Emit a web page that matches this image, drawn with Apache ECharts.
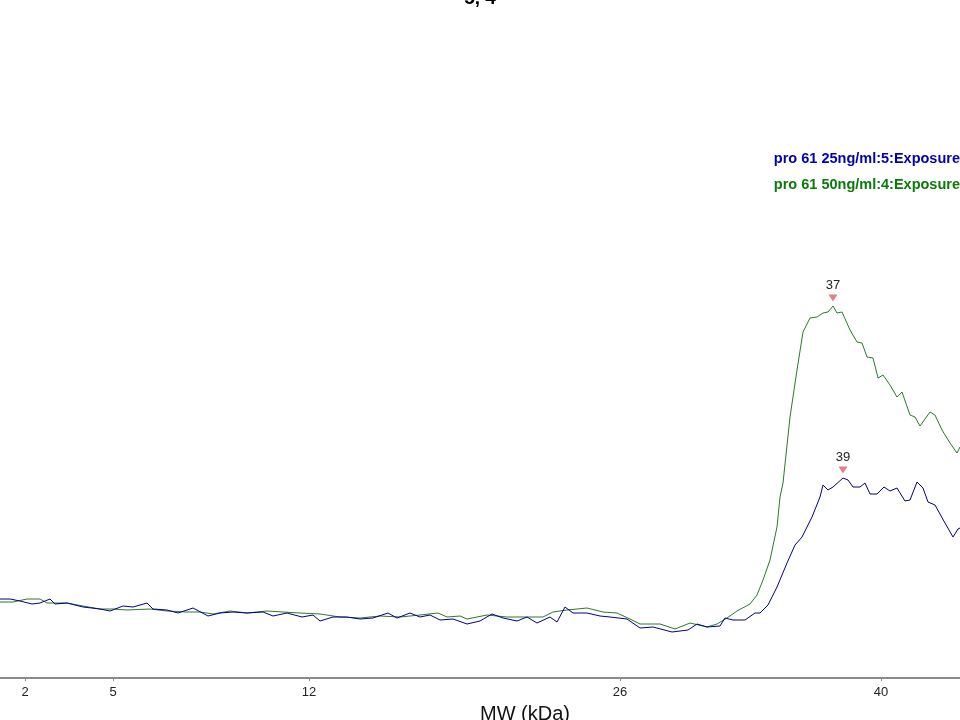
<!DOCTYPE html>
<html>
<head>
<meta charset="utf-8">
<script src="https://cdn.jsdelivr.net/npm/echarts@6/dist/echarts.min.js"></script>
<style>html,body{margin:0;padding:0;background:#fff}#c{width:960px;height:720px}</style>
</head>
<body>
<div id="c"></div>
<script>
const seriesNames = ['pro 61 25ng/ml:5:Exposure', 'pro 61 50ng/ml:4:Exposure'];
const tickPositions = [25, 113, 309, 620, 881];
const tickLabels = ['2', '5', '12', '26', '40'];

const blueX = [0,10,20,32,40,50,55,67,83,100,110,123,133,147,153,167,178,193,208,220,233,247,263,273,287,302,313,320,333,347,360,373,388,397,410,420,430,440,453,467,480,492,503,517,527,537,550,557,565,573,587,600,610,627,640,653,672,688,697,707,720,725,733,745,755,760,768,777,787,795,802,812,820,823,828,833,843,848,853,860,865,870,877,884,890,897,905,910,917,923,928,935,945,953,958,960];
const blueY = [79,79,77,74,75,79,74,75,71,69,67,72,71,75,69,68,65,70,62,65,66,65,66,62,65,61,63,57,61,61,59,60,65,60,65,61,63,58,59,54,57,64,60,57,61,55,61,56,71,65,65,62,61,59,50,51,46,48,54,51,52,60,58,58,65,65,73,91,115,133,141,161,181,193,188,191,200,198,191,191,195,184,184,191,187,190,177,178,196,190,176,173,155,141,149,150];

const greenX = [0,13,27,40,47,67,83,100,113,127,150,167,187,200,213,230,247,267,283,300,320,340,360,380,400,420,438,447,460,467,487,507,527,543,553,567,587,603,617,630,640,660,675,690,707,717,727,737,750,757,763,770,777,780,783,790,797,803,810,817,823,828,833,837,842,850,857,862,867,873,878,883,890,897,902,910,915,920,930,935,942,950,957,960];
const greenY = [76,76,79,79,75,75,72,69,69,68,69,67,66,66,64,67,65,67,66,65,64,61,60,62,61,63,65,61,62,59,63,61,61,61,66,68,70,66,65,59,54,54,49,55,51,54,60,67,74,83,98,118,151,181,195,261,308,346,360,361,365,366,372,365,366,348,336,335,321,320,300,303,293,281,286,263,261,252,266,263,248,235,225,231];

const peakLabels = ['39', '37'];
const peakX = [843, 833];
const peakY = [200, 372];

const lineColors = ['#00008b', '#2a7a2a'];
const legendColors = ['#0000b4', '#0a7a0a'];

function pairs(xs, ys) { return xs.map((x, i) => [x, ys[i]]); }

const chart = echarts.init(document.getElementById('c'));
chart.setOption({
  animation: false,
  backgroundColor: '#fff',
  textStyle: { fontFamily: 'Liberation Sans, Arial, sans-serif' },
  title: {
    text: '5, 4', left: 'center', top: -16,
    textStyle: { fontSize: 19, fontWeight: 'bold', color: '#000', fontFamily: 'Liberation Sans' }
  },
  legend: {
    orient: 'vertical', right: 0, top: 151, itemGap: 11, itemWidth: 0, itemHeight: 0, icon: 'none',
    data: seriesNames.map((n, i) => ({ name: n, textStyle: { color: legendColors[i] } })),
    textStyle: { fontSize: 14.5, fontWeight: 'bold', fontFamily: 'Liberation Sans', padding: 0 },
    padding: 0
  },
  grid: { left: 0, right: 0, top: 0, bottom: 42 },
  xAxis: {
    type: 'value', min: 0, max: 960,
    splitLine: { show: false },
    axisLine: { lineStyle: { color: '#8a8a8a', width: 2 } },
    axisTick: { show: true, customValues: tickPositions, length: 3, lineStyle: { color: '#8a8a8a' } },
    axisLabel: {
      customValues: tickPositions, color: '#222', fontSize: 13, margin: 8,
      fontFamily: 'Liberation Sans',
      formatter: v => tickLabels[tickPositions.indexOf(v)]
    }
  },
  yAxis: { type: 'value', min: 0, max: 678, show: false },
  graphic: [{
    type: 'text', left: 480, top: 704,
    style: { text: 'MW (kDa)', fontSize: 20, fill: '#111', fontFamily: 'Liberation Sans' }
  }],
  series: [0, 1].map(i => ({
    name: seriesNames[i],
    type: 'line',
    data: i === 0 ? pairs(blueX, blueY) : pairs(greenX, greenY),
    showSymbol: false, symbol: 'none',
    lineStyle: { color: lineColors[i], width: 1 },
    itemStyle: { color: lineColors[i] },
    z: i === 0 ? 3 : 2,
    markPoint: {
      symbol: 'triangle', symbolRotate: 180, symbolSize: [9, 7], symbolOffset: [0, -8],
      itemStyle: { color: '#e27f88' },
      label: { show: true, position: 'top', distance: 3, color: '#222', fontSize: 13, fontFamily: 'Liberation Sans', formatter: peakLabels[i] },
      data: [{ coord: [peakX[i], peakY[i]] }]
    }
  }))
});
</script>
</body>
</html>
